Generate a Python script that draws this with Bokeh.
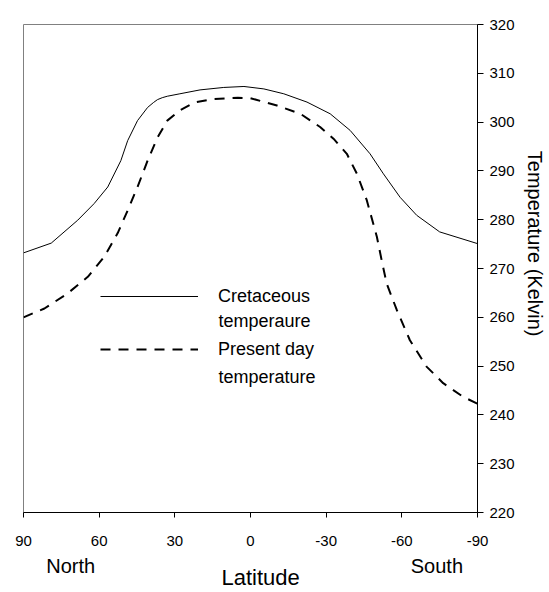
import math
from bokeh.plotting import figure
from bokeh.models import (Range1d, FixedTicker, Legend, LegendItem, Label,
                          LinearAxis)
from bokeh.embed import file_html
from bokeh.resources import INLINE

# ---- data ----
cret_lat = [90, 79, 68.5, 62, 56.6, 51.4, 48.7, 44.8, 40.8, 38.5, 36.9, 35, 33, 28, 20, 10.6,
            2.6, -5.3, -13.2, -22.4, -31.6, -39.5, -47.4, -52.7, -59.3, -65.9, -75, -90]
cret_temp = [273.2, 275.2, 279.9, 283.3, 286.7, 292.1, 296.2, 300.3, 303.0, 304.0, 304.6,
             305.0, 305.3, 305.8, 306.6, 307.1, 307.3, 306.8, 305.8, 304.1, 301.7, 298.3,
             293.5, 289.4, 284.6, 280.9, 277.5, 275.1]

pres_lat = [90, 81.7, 72.5, 64.5, 58, 52.7, 48.7, 44.8, 40.8, 36.9, 33, 28, 22.4, 15, 5, 0,
            -10.5, -19.8, -27.6, -32.9, -38.2, -42.2, -46.1, -50.1, -52, -54, -58, -63.2,
            -69.8, -76.4, -84.3, -90]
pres_temp = [260.0, 261.8, 264.9, 268.3, 272.4, 277.2, 281.9, 286.7, 292.1, 296.8, 300.3,
             302.4, 304.0, 304.7, 305.0, 304.9, 303.4, 301.7, 299.0, 296.6, 293.5, 289.4,
             284.0, 276.5, 271.7, 266.9, 261.5, 255.3, 249.9, 246.5, 243.7, 242.3]

x_ticks = [90, 60, 30, 0, -30, -60, -90]
y_ticks = [220, 230, 240, 250, 260, 270, 280, 290, 300, 310, 320]

series_first = ["Cretaceous", "Present day"]
series_second = ["temperaure", "temperature"]
x_title = "Latitude"
y_title = "Temperature (Kelvin)"
hemisphere_labels = ["North", "South"]

# where the free-standing texts sit (latitude / temperature of the reference)
hemisphere_lat = [71.3, -73.9]
x_title_lat = -4.0
y_title_temp = 275.1
second_line_lat = 12.7
second_line_temp = [259.2, 247.8]

FONT = "Liberation Sans"

p = figure(width=549, height=592,
           x_range=Range1d(90, -90), y_range=Range1d(220, 320),
           y_axis_location="right",
           output_backend="svg", toolbar_location=None,
           min_border_left=23, min_border_top=24,
           min_border_right=72, min_border_bottom=78)

p.grid.visible = False
p.outline_line_color = "#808080"
p.outline_line_width = 1
p.background_fill_color = "white"
p.border_fill_color = "white"

xa = p.xaxis[0]
xa.ticker = FixedTicker(ticks=x_ticks)
xa.major_label_overrides = {t: str(t) for t in x_ticks}
xa.minor_tick_line_color = None
xa.major_tick_out = 5
xa.major_tick_in = 0
xa.major_label_standoff = 18
xa.major_label_text_font = FONT
xa.major_label_text_font_size = "15px"
xa.major_label_text_color = "black"
xa.axis_line_color = "black"
xa.major_tick_line_color = "black"

ya = p.yaxis[0]
ya.ticker = FixedTicker(ticks=y_ticks)
ya.major_label_overrides = {t: str(t) for t in y_ticks}
ya.minor_tick_line_color = None
ya.major_tick_out = 6
ya.major_tick_in = 0
ya.major_label_standoff = 6
ya.major_label_text_font = FONT
ya.major_label_text_font_size = "15px"
ya.major_label_text_color = "black"
ya.axis_line_color = "black"
ya.major_tick_line_color = "black"


def text_axis(ticks, labels, size, standoff, orientation="horizontal"):
    ax = LinearAxis(ticker=FixedTicker(ticks=ticks),
                    major_label_overrides=dict(zip(ticks, labels)),
                    axis_line_color=None, major_tick_line_color=None,
                    minor_tick_line_color=None, major_tick_out=0, major_tick_in=0,
                    major_label_standoff=standoff,
                    major_label_text_font=FONT, major_label_text_font_size=size,
                    major_label_text_color="black",
                    major_label_orientation=orientation)
    return ax


p.add_layout(text_axis(hemisphere_lat, hemisphere_labels, "20px", 6), "below")
p.add_layout(text_axis([x_title_lat], [x_title], "22px", -15), "below")
p.add_layout(text_axis([y_title_temp], [y_title], "20px", 6, "vertical"), "right")

r1 = p.line(cret_lat, cret_temp, line_color="black", line_width=1)
r2 = p.line(pres_lat, pres_temp, line_color="black", line_width=2, line_dash="10 8")

legend = Legend(items=[LegendItem(label=series_first[0], renderers=[r1]),
                       LegendItem(label=series_first[1], renderers=[r2])],
                location=(77, 152), glyph_width=98, glyph_height=22, label_height=22,
                label_standoff=20, spacing=31, padding=0, margin=0,
                border_line_color=None, background_fill_alpha=0,
                label_text_font=FONT, label_text_font_size="18px",
                label_text_color="black")
p.add_layout(legend)

for txt, t in zip(series_second, second_line_temp):
    p.add_layout(Label(x=second_line_lat, y=t, text=txt, text_align="left",
                       text_baseline="alphabetic", text_font=FONT,
                       text_font_size="18px", text_color="black"))

open("out.html", "w").write(file_html(p, INLINE))
